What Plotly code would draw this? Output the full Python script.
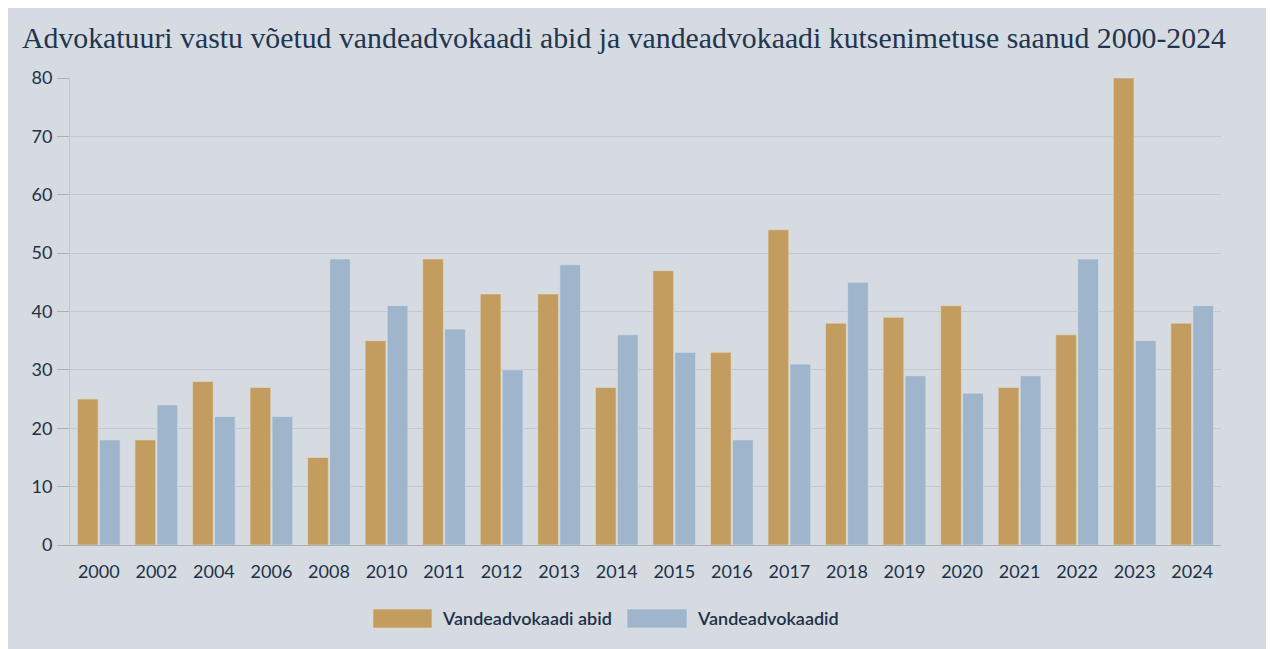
import plotly.graph_objects as go

years = ["2000", "2002", "2004", "2006", "2008", "2010", "2011", "2012", "2013", "2014",
         "2015", "2016", "2017", "2018", "2019", "2020", "2021", "2022", "2023", "2024"]
abid = [25, 18, 28, 27, 15, 35, 49, 43, 43, 27, 47, 33, 54, 38, 39, 41, 27, 36, 80, 38]
advokaadid = [18, 24, 22, 22, 49, 41, 37, 30, 48, 36, 33, 18, 31, 45, 29, 26, 29, 49, 35, 41]
series_names = ["Vandeadvokaadi abid", "Vandeadvokaadid"]
title_text = "Advokatuuri vastu võetud vandeadvokaadi abid ja vandeadvokaadi kutsenimetuse saanud 2000-2024"

GOLD = "#c29d5f"
BLUE = "#9fb5cb"
BG = "#d5dbe0"
TXT = "#1e3148"

W, H = 1260, 642
L, R, T, B = 62, 47, 70, 105
pw, ph = W - L - R, H - T - B

def px(x):
    return (x - L) / pw

def py(y):
    return (H - B - y) / ph

fig = go.Figure()
fig.add_trace(go.Bar(x=years, y=abid, name=series_names[0], marker_color=GOLD,
                     marker_line=dict(color="rgba(230,220,200,0.6)", width=1), showlegend=False))
fig.add_trace(go.Bar(x=years, y=advokaadid, name=series_names[1], marker_color=BLUE,
                     marker_line=dict(color="rgba(215,225,235,0.6)", width=1), showlegend=False))

shapes = [
    dict(type="rect", xref="paper", yref="paper", x0=px(365), x1=px(424), y0=py(620), y1=py(601),
         fillcolor=GOLD, line=dict(color="rgba(230,220,200,0.6)", width=1)),
    dict(type="rect", xref="paper", yref="paper", x0=px(619), x1=px(679), y0=py(620), y1=py(601),
         fillcolor=BLUE, line=dict(color="rgba(215,225,235,0.6)", width=1)),
]
annotations = [
    dict(text=series_names[0], xref="paper", yref="paper", x=px(432), y=py(610), xanchor="left",
         yanchor="middle", showarrow=False, font=dict(family="Lato", size=18, color=TXT, weight=600)),
    dict(text=series_names[1], xref="paper", yref="paper", x=px(687), y=py(610), xanchor="left",
         yanchor="middle", showarrow=False, font=dict(family="Lato", size=18, color=TXT, weight=600)),
]

fig.update_layout(
    width=W, height=H,
    margin=dict(l=L, r=R, t=T, b=B),
    paper_bgcolor=BG,
    plot_bgcolor=BG,
    barmode="group",
    bargap=0.235,
    bargroupgap=0.06,
    title=dict(text=title_text, x=14 / W, xanchor="left", y=1 - 30 / H, yanchor="middle",
               font=dict(family="Liberation Serif", size=29.8, color="#1f3550")),
    shapes=shapes,
    annotations=annotations,
    xaxis=dict(tickfont=dict(family="Lato", size=18, color=TXT), showgrid=False,
               showline=True, linecolor="#a9b0b8", linewidth=1, ticks="", ticklabelstandoff=10),
    yaxis=dict(range=[0, 80], tickvals=[0, 10, 20, 30, 40, 50, 60, 70, 80],
               tickfont=dict(family="Lato", size=18, color=TXT),
               gridcolor="#c2c8cf", gridwidth=1, zeroline=False,
               showline=True, linecolor="#c2c8cf", linewidth=1,
               ticks="outside", ticklen=12, tickcolor="#a9b0b8", ticklabelstandoff=1),
)

fig.write_html("out.html")
